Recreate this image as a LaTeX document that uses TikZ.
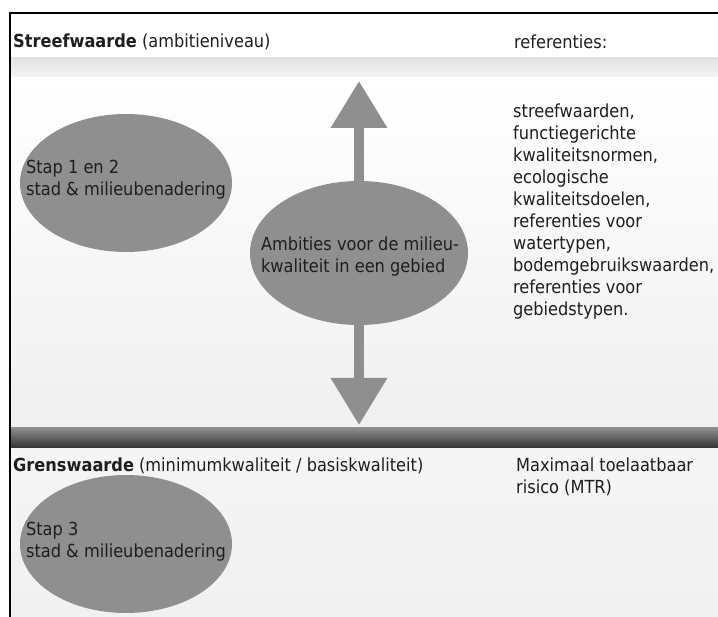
\documentclass[tikz,border=0pt]{standalone}
\usepackage{fontspec}
\setmainfont{DejaVu Sans Condensed}
\usetikzlibrary{shapes.geometric,arrows.meta}

\definecolor{blobgray}{HTML}{8F8F8F}
\definecolor{inkgray}{HTML}{1E1E1E}

\tikzset{
  blob/.style={ellipse, fill=blobgray, inner sep=0pt},
  lbl/.style={text=inkgray, inner sep=0pt, font=\fontsize{18}{22}\selectfont},
  bigarrow/.style={draw=blobgray, line width=10pt, -{Triangle[length=47pt,width=54pt]}},
}

\begin{document}
\begin{tikzpicture}[x=1pt,y=-1pt]
\useasboundingbox (0,0) rectangle (718,617);
\fill[white] (0,0) rectangle (718,617);

% banden
\shade[top color=gray!22, bottom color=gray!9] (11,58) rectangle (718,78);
\shade[top color=white, bottom color=gray!12] (11,78) rectangle (718,428);
\shade[top color=black!45, bottom color=black!82] (11,428) rectangle (718,449);
\shade[top color=gray!8, bottom color=gray!11] (11,449) rectangle (718,617);
\draw[line width=2.6pt] (10,617) -- (10,13) -- (718,13);

% kopjes
\node[lbl, anchor=west] (streef) at (13,42) {\textbf{Streefwaarde} (ambitieniveau)};
\node[lbl, anchor=west] (refkop) at (514,42) {referenties:};
\node[lbl, anchor=west] (grens) at (13,466) {\textbf{Grenswaarde} (minimumkwaliteit / basiskwaliteit)};
\node[lbl, anchor=north west, align=left] (mtr) at (516,458) {Maximaal toelaatbaar\\risico (MTR)};

% ellipsen
\node[blob, minimum width=212pt, minimum height=138pt] (stap12) at (126,183) {};
\node[lbl, anchor=north, align=left] (stap12txt) at (126,160) {Stap 1 en 2\\stad \& milieubenadering};
\node[blob, minimum width=218pt, minimum height=144pt] (amb) at (359,253) {};
\node[lbl, anchor=north, align=left] (ambtxt) at (360,237) {Ambities voor de milieu-\\kwaliteit in een gebied};
\node[blob, minimum width=212pt, minimum height=138pt] (stap3) at (126,544) {};
\node[lbl, anchor=north, align=left] (stap3txt) at (126,522) {Stap 3\\stad \& milieubenadering};

% pijlen
\coordinate (uptip) at (359,81);
\coordinate (downtip) at (359,425);
\draw[bigarrow] (amb) -- (uptip);
\draw[bigarrow] (amb) -- (downtip);

% referenties
\node[lbl, anchor=north west, align=left] (refs) at (513,104) {streefwaarden,\\functiegerichte\\kwaliteitsnormen,\\ecologische\\kwaliteitsdoelen,\\referenties voor\\watertypen,\\bodemgebruikswaarden,\\referenties voor\\gebiedstypen.};
\end{tikzpicture}
\end{document}
